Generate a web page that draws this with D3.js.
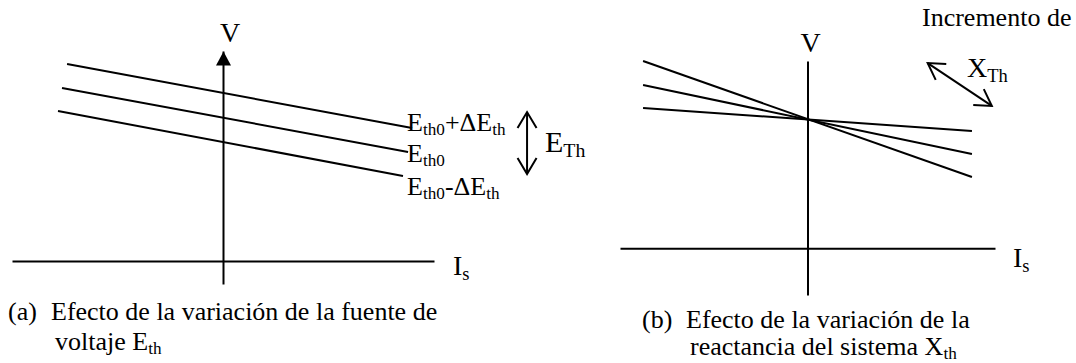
<!DOCTYPE html>
<html>
<head>
<meta charset="utf-8">
<script src="https://cdn.jsdelivr.net/npm/d3@7"></script>
<style>
    body { margin: 0; background: #fff; }
    svg text { font-family: "Liberation Serif", "Times New Roman", Times, serif; fill: #000; }
</style>
</head>
<body>
<svg id="fig" width="1076" height="363"></svg>
<script>

// Panel (a): V-I lines for three Thevenin source voltages
const labelsA = ["E_{th0}+ΔE_{th}", "E_{th0}", "E_{th0}-ΔE_{th}"];
const startIA = [-0.739, -0.763, -0.782];
const startVA = [0.938, 0.824, 0.714];
const endIA   = [0.896, 0.877, 0.853];
const endVA   = [0.633, 0.519, 0.405];

// Panel (b): V-I lines for three system reactances (all cross at one point)
const startIB = [-0.877, -0.877, -0.877];
const startVB = [1.000, 0.872, 0.749];
const endIB   = [0.877, 0.877, 0.877];
const endVB   = [0.380, 0.503, 0.626];

// Text
const captionA = ["(a)", "Efecto de la variación de la fuente de", "voltaje E_{th}"];
const captionB = ["(b)", "Efecto de la variación de la", "reactancia del sistema X_{th}"];

const svg = d3.select("#fig");

// Markers
const defs = svg.append("defs");
defs.append("marker")
    .attr("id", "tri")
    .attr("viewBox", "-16 -9 17 18")
    .attr("markerUnits", "userSpaceOnUse")
    .attr("markerWidth", 17).attr("markerHeight", 18)
    .attr("refX", 0).attr("refY", 0)
    .attr("orient", "auto")
    .append("path")
    .attr("d", "M0,0L-14,-7.5L-14,7.5Z")
    .attr("fill", "#000");
defs.append("marker")
    .attr("id", "chev")
    .attr("viewBox", "-18 -12 20 24")
    .attr("markerUnits", "userSpaceOnUse")
    .attr("markerWidth", 20).attr("markerHeight", 24)
    .attr("refX", 0).attr("refY", 0)
    .attr("orient", "auto-start-reverse")
    .append("path")
    .attr("d", "M-16,-9.5L0,0L-16,9.5")
    .attr("fill", "none")
    .attr("stroke", "#000")
    .attr("stroke-width", 2);
defs.append("clipPath")
    .attr("id", "cutA")
    .append("rect")
    .attr("x", 0).attr("y", 0).attr("width", 1076).attr("height", 280);

// text with _{sub} parts
function rich(g, x, y, str, size) {
    const t = g.append("text")
        .attr("x", x).attr("y", y)
        .style("font-size", size + "px");
    const re = /_\{([^}]*)\}|([^_]+)/g;
    let m, down = false;
    const shift = size * 0.17;
    while ((m = re.exec(str))) {
        if (m[1] !== undefined) {
            t.append("tspan").text(m[1])
                .attr("dy", down ? 0 : shift)
                .style("font-size", (size * 0.66) + "px");
            down = true;
        } else {
            t.append("tspan").text(m[2])
                .attr("dy", down ? -shift : 0);
            down = false;
        }
    }
    return t;
}

const line = (x, y) => d3.line().x(d => x(d[0])).y(d => y(d[1]));

// ---------- Panel (a) ----------
const xA = d3.scaleLinear().domain([-1, 1]).range([12, 434]);
const yA = d3.scaleLinear().domain([-0.11, 1]).range([284, 51]);
const gA = svg.append("g");

gA.append("g")
    .attr("transform", `translate(0, ${yA(0)})`)
    .call(d3.axisBottom(xA).tickValues([]).tickSizeOuter(0));
gA.append("g")
    .attr("transform", `translate(${xA(0)}, 0)`)
    .call(d3.axisLeft(yA).tickValues([]).tickSizeOuter(0))
    .select(".domain")
    .attr("marker-end", "url(#tri)");

gA.selectAll(".curveA")
    .data(labelsA)
    .enter()
    .append("path")
    .classed("curveA", true)
    .attr("d", (d, i) => line(xA, yA)([[startIA[i], startVA[i]], [endIA[i], endVA[i]]]))
    .attr("fill", "none")
    .attr("stroke", "#000")
    .attr("stroke-width", 2);

const labelDy = [3, 10, 19];
labelsA.forEach((s, i) => rich(gA, xA(endIA[0]) - 5, yA(endVA[i]) + labelDy[i], s, 26));

// E_Th double arrow
gA.append("path")
    .attr("d", line(xA, yA)([[1.441, 0.709], [1.441, 0.414]]))
    .attr("stroke", "#000").attr("stroke-width", 2)
    .attr("marker-start", "url(#chev)")
    .attr("marker-end", "url(#chev)");
rich(gA, 545, 152, "E_{Th}", 30);

gA.append("text").attr("x", xA(0) + 7).attr("y", 42)
    .attr("text-anchor", "middle").style("font-size", "28px").text("V");
rich(gA, 453, 275, "I_{s}", 28).attr("clip-path", "url(#cutA)");

rich(gA, 8, 320, captionA[0], 26);
rich(gA, 51, 320, captionA[1], 26);
rich(gA, 55, 350, captionA[2], 26);

// ---------- Panel (b) ----------
const xB = d3.scaleLinear().domain([-1, 1]).range([620, 995]);
const yB = d3.scaleLinear().domain([-0.25, 1]).range([295, 61]);
const gB = svg.append("g");

gB.append("g")
    .attr("transform", `translate(0, ${yB(0)})`)
    .call(d3.axisBottom(xB).tickValues([]).tickSizeOuter(0));
gB.append("g")
    .attr("transform", `translate(${xB(0)}, 0)`)
    .call(d3.axisLeft(yB).tickValues([]).tickSizeOuter(0));

gB.selectAll(".curveB")
    .data(startVB)
    .enter()
    .append("path")
    .classed("curveB", true)
    .attr("d", (d, i) => line(xB, yB)([[startIB[i], startVB[i]], [endIB[i], endVB[i]]]))
    .attr("fill", "none")
    .attr("stroke", "#000")
    .attr("stroke-width", 2);

// X_Th double arrow
gB.append("path")
    .attr("d", line(xB, yB)([[0.641, 0.989], [0.983, 0.760]]))
    .attr("stroke", "#000").attr("stroke-width", 2)
    .attr("marker-start", "url(#chev)")
    .attr("marker-end", "url(#chev)");
rich(gB, 967, 77, "X_{Th}", 28);
gB.append("text").attr("x", 922).attr("y", 26).style("font-size", "26px").text("Incremento de");

gB.append("text").attr("x", xB(0) + 3).attr("y", 52)
    .attr("text-anchor", "middle").style("font-size", "28px").text("V");
rich(gB, 1013, 267, "I_{s}", 28);

rich(gB, 642, 328, captionB[0], 26);
rich(gB, 686, 328, captionB[1], 26);
rich(gB, 690, 355, captionB[2], 26);

svg.selectAll(".domain").attr("stroke", "#000").attr("stroke-width", 2);
</script>
</body>
</html>
